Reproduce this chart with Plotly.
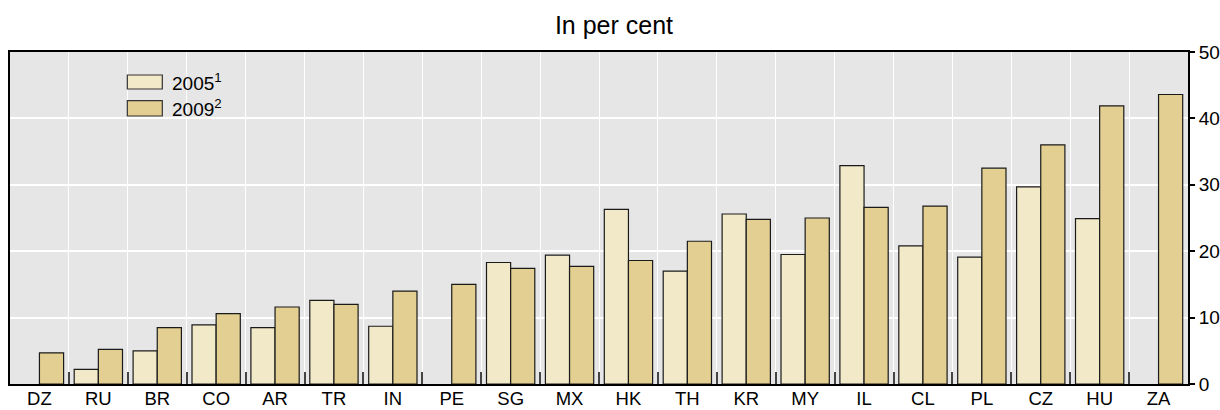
import plotly.graph_objects as go

categories = ["DZ", "RU", "BR", "CO", "AR", "TR", "IN", "PE", "SG", "MX",
              "HK", "TH", "KR", "MY", "IL", "CL", "PL", "CZ", "HU", "ZA"]
values_2005 = [None, 2.2, 5.0, 8.9, 8.5, 12.6, 8.7, None, 18.3, 19.4,
               26.3, 17.0, 25.6, 19.5, 32.9, 20.8, 19.1, 29.7, 24.9, None]
values_2009 = [4.7, 5.2, 8.5, 10.6, 11.6, 12.0, 14.0, 15.0, 17.4, 17.7,
               18.6, 21.5, 24.8, 25.0, 26.6, 26.8, 32.5, 36.0, 41.9, 43.6]
series_names = ["2005<sup>1</sup>", "2009<sup>2</sup>"]
colors = ["#F2E9C9", "#E2CF91"]
y_ticks = [0, 10, 20, 30, 40, 50]

FONT = "Liberation Sans, Arial, sans-serif"

fig = go.Figure()
for name, vals, col in zip(series_names, [values_2005, values_2009], colors):
    fig.add_trace(go.Bar(
        x=categories, y=vals, name=name,
        marker=dict(color=col, line=dict(color="#1a1a1a", width=1.2)),
        showlegend=False,
    ))

# custom legend
leg_items = [(0.9307, 0.8886), (0.8533, 0.8072)]
for (y1, y0), name, col in zip(leg_items, series_names, colors):
    fig.add_shape(type="rect", xref="paper", yref="paper",
                  x0=0.0996, x1=0.1293, y0=y0, y1=y1,
                  fillcolor=col, line=dict(color="#333333", width=1.2))
    fig.add_annotation(xref="paper", yref="paper", x=0.1373, y=(y0 + y1) / 2,
                       text=name, showarrow=False, xanchor="left", yanchor="middle",
                       xshift=-2, font=dict(family=FONT, size=19, color="#000"))

fig.update_layout(
    width=1220, height=410,
    margin=dict(l=10, r=32, t=52, b=26, autoexpand=False),
    paper_bgcolor="white",
    plot_bgcolor="#E6E6E6",
    barmode="group",
    bargap=0.18,
    bargroupgap=0,
    font=dict(family=FONT, size=19, color="#000"),
    title=dict(text="In per cent", x=614 / 1220, xref="container", xanchor="center",
               y=1 - 25 / 410, yref="container", yanchor="middle",
               font=dict(family=FONT, size=25, color="#000")),
    xaxis=dict(
        type="category", range=[-0.5, 19.5], automargin=False,
        showgrid=True, gridcolor="white", gridwidth=1.2,
        tickson="boundaries", ticks="inside", ticklen=12, tickcolor="#444", tickwidth=1.5,
        showline=True, linecolor="black", linewidth=2, mirror=True,
        ticklabelstandoff=-3,
        tickfont=dict(family=FONT, size=18.5, color="#000"),
    ),
    yaxis=dict(
        side="right", range=[0, 50], tickvals=y_ticks, automargin=False,
        showgrid=True, gridcolor="white", gridwidth=1.5, zeroline=False,
        ticks="outside", ticklen=5, tickcolor="black", tickwidth=1.5,
        showline=True, linecolor="black", linewidth=2, mirror=True,
        tickfont=dict(family=FONT, size=19, color="#000"),
    ),
)

fig.write_html("out.html", config={"displayModeBar": False},
               post_script="document.body.style.margin='0';")
